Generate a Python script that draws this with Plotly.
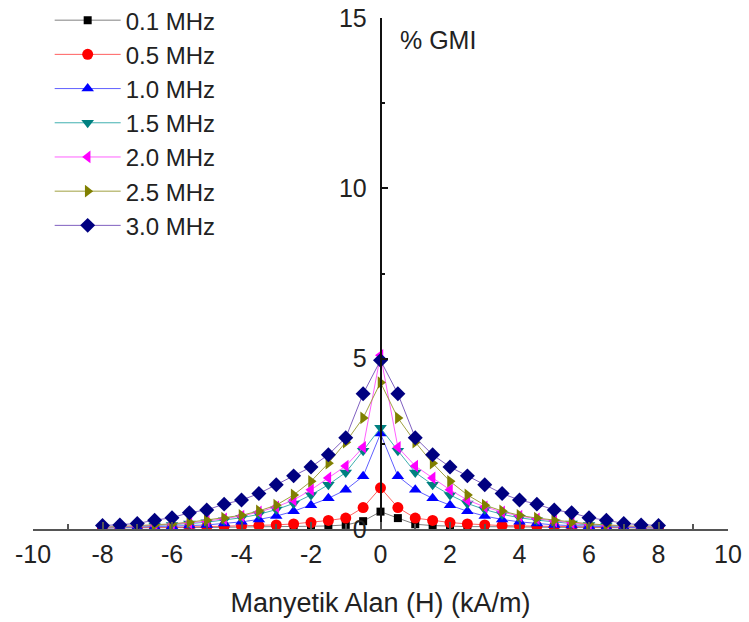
import numpy as np
import plotly.graph_objects as go

# Magnetic field values H (kA/m), -8 .. 8 in 0.5 steps
H = [-8, -7.5, -7, -6.5, -6, -5.5, -5, -4.5, -4, -3.5, -3, -2.5, -2, -1.5, -1, -0.5,
     0, 0.5, 1, 1.5, 2, 2.5, 3, 3.5, 4, 4.5, 5, 5.5, 6, 6.5, 7, 7.5, 8]

series_names = ["0.1 MHz", "0.5 MHz", "1.0 MHz", "1.5 MHz", "2.0 MHz", "2.5 MHz", "3.0 MHz"]

gmi_01 = [0.03, 0.03, 0.04, 0.04, 0.04, 0.05, 0.05, 0.05, 0.06, 0.06, 0.07, 0.07, 0.08, 0.09, 0.12, 0.23,
          0.51, 0.32, 0.14, 0.10, 0.08, 0.07, 0.07, 0.06, 0.06, 0.05, 0.05, 0.05, 0.04, 0.04, 0.04, 0.03, 0.03]
gmi_05 = [0.04, 0.04, 0.05, 0.05, 0.06, 0.06, 0.07, 0.08, 0.09, 0.10, 0.12, 0.15, 0.19, 0.25, 0.32, 0.63,
          1.21, 0.63, 0.32, 0.25, 0.19, 0.15, 0.12, 0.10, 0.09, 0.08, 0.07, 0.06, 0.06, 0.05, 0.05, 0.04, 0.04]
gmi_10 = [0.03, 0.04, 0.05, 0.06, 0.08, 0.10, 0.12, 0.16, 0.21, 0.28, 0.38, 0.52, 0.70, 0.90, 1.15, 1.55,
          2.80, 1.55, 1.15, 0.90, 0.70, 0.52, 0.38, 0.28, 0.21, 0.16, 0.12, 0.10, 0.08, 0.06, 0.05, 0.04, 0.03]
gmi_15 = [0.04, 0.05, 0.07, 0.10, 0.12, 0.16, 0.20, 0.26, 0.33, 0.43, 0.57, 0.75, 1.00, 1.30, 1.66, 2.30,
          2.97, 2.30, 1.66, 1.30, 1.00, 0.75, 0.57, 0.43, 0.33, 0.26, 0.20, 0.16, 0.12, 0.10, 0.07, 0.05, 0.04]
gmi_20 = [0.05, 0.06, 0.08, 0.11, 0.14, 0.18, 0.23, 0.30, 0.38, 0.50, 0.65, 0.85, 1.15, 1.50, 1.85, 2.40,
          5.10, 2.40, 1.85, 1.50, 1.15, 0.85, 0.65, 0.50, 0.38, 0.30, 0.23, 0.18, 0.14, 0.11, 0.08, 0.06, 0.05]
gmi_25 = [0.05, 0.07, 0.09, 0.12, 0.15, 0.20, 0.26, 0.32, 0.40, 0.53, 0.70, 1.00, 1.40, 1.93, 2.55, 3.26,
          4.30, 3.26, 2.55, 1.93, 1.40, 1.00, 0.70, 0.53, 0.40, 0.32, 0.26, 0.20, 0.15, 0.12, 0.09, 0.07, 0.05]
gmi_30 = [0.10, 0.12, 0.16, 0.26, 0.33, 0.48, 0.56, 0.73, 0.85, 1.04, 1.30, 1.56, 1.82, 2.18, 2.68, 3.97,
          4.95, 3.97, 2.68, 2.18, 1.82, 1.56, 1.30, 1.04, 0.85, 0.73, 0.56, 0.48, 0.33, 0.26, 0.16, 0.12, 0.10]

all_series = [gmi_01, gmi_05, gmi_10, gmi_15, gmi_20, gmi_25, gmi_30]
marker_colors = ["#000000", "#FF0000", "#0000FF", "#008080", "#FF00FF", "#808000", "#000080"]
line_colors = ["#808080", "#FF6060", "#6060FF", "#40B0B0", "#FF60FF", "#A0A040", "#8060C0"]
symbols = ["square", "circle", "triangle-up", "triangle-down", "triangle-left", "triangle-right", "diamond"]
sizes = [8, 11, 11, 11, 11, 11, 11.5]

xticks = list(range(-10, 11, 2))
yticks = [0, 5, 10, 15]

fig = go.Figure()
for i, (name, ys) in enumerate(zip(series_names, all_series)):
    fig.add_trace(go.Scatter(
        x=H, y=ys, name=name, mode="lines+markers",
        line=dict(color=line_colors[i], width=1),
        marker=dict(symbol=symbols[i], size=sizes[i], color=marker_colors[i],
                    line=dict(width=0)),
    ))

font_family = "Liberation Sans, Arial, sans-serif"
txt = "#222222"

fig.update_layout(
    width=749, height=622,
    margin=dict(l=33, r=21, t=18, b=93, autoexpand=False),
    plot_bgcolor="white", paper_bgcolor="white",
    font=dict(family=font_family, color=txt, size=25),
    showlegend=True,
    legend=dict(x=0.024, y=1.039, xanchor="left", yanchor="top",
                font=dict(size=24, family=font_family, color=txt),
                bgcolor="rgba(0,0,0,0)", itemwidth=66, traceorder="normal"),
    xaxis=dict(range=[-10, 10], tickvals=xticks, ticktext=[str(v) for v in xticks],
               automargin=False,
               showgrid=False, zeroline=False, showline=True, linecolor="#555555", linewidth=1.5,
               ticks="inside", ticklen=7, tickcolor="#555555", tickwidth=1.5,
               minor=dict(tickvals=list(range(-9, 10, 2)), ticks="inside", ticklen=5,
                          tickcolor="#555555", tickwidth=1.5),
               tickfont=dict(size=25), ticklabelstandoff=2, ticklabeloverflow="allow",
               title=dict(text="Manyetik Alan (H) (kA/m)", font=dict(size=27), standoff=26)),
    yaxis=dict(range=[0, 15], tickvals=yticks, ticktext=[str(v) for v in yticks],
               anchor="free", position=0.5, automargin=False,
               showgrid=False, zeroline=False, showline=True, linecolor="#111111", linewidth=1.5,
               ticks="inside", ticklen=7, tickcolor="#111111", tickwidth=1.5,
               minor=dict(tickvals=[2.5, 7.5, 12.5], ticks="inside", ticklen=4,
                          tickcolor="#111111", tickwidth=1.5),
               tickfont=dict(size=25), ticklabelstandoff=8, ticklabeloverflow="allow"),
    annotations=[dict(x=0.49, y=14.35, xref="x", yref="y", text="% GMI", showarrow=False,
                      xanchor="left", yanchor="middle", font=dict(size=25, color=txt))],
)

fig.write_html("out.html", config={"displayModeBar": False},
               post_script="document.body.style.margin='0';")
